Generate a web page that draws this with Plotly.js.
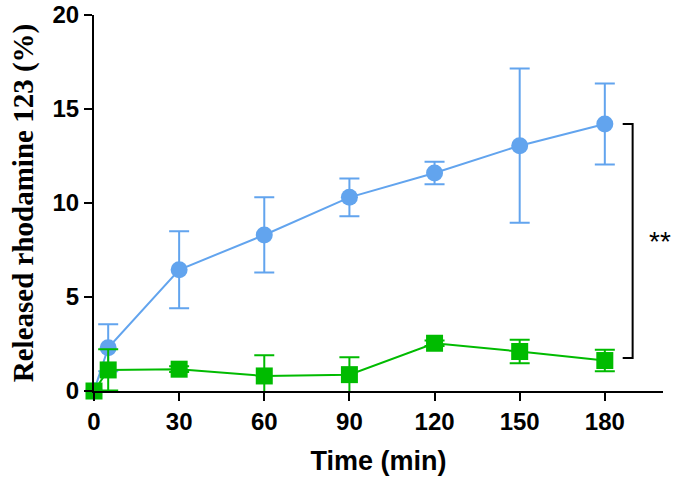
<!DOCTYPE html>
<html>
<head>
<meta charset="utf-8">
<script src="https://cdn.plot.ly/plotly-3.0.1.min.js"></script>
<style>html,body{margin:0;padding:0;background:#fff;}#chart{width:688px;height:485px;}</style>
</head>
<body>
<div id="chart"></div>
<script>
var timeMin = [0, 5, 30, 60, 90, 120, 150, 180];
var blueMean = [0, 2.3, 6.45, 8.3, 10.3, 11.6, 13.05, 14.2];
var blueErr  = [0, 1.25, 2.05, 2.0, 1.0, 0.6, 4.1, 2.15];
var greenMean = [0, 1.12, 1.16, 0.8, 0.87, 2.54, 2.1, 1.62];
var greenErr  = [0, 1.1, 0.15, 1.1, 0.92, 0.15, 0.62, 0.57];
var xTicks = [0, 30, 60, 90, 120, 150, 180];
var yTicks = [0, 5, 10, 15, 20];
var bracketTop = 14.2, bracketBottom = 1.75;

var blue = '#62a4ee', green = '#00bb00';
var traces = [
  {x: timeMin, y: blueMean, type: 'scatter', mode: 'lines+markers', cliponaxis: false,
   line: {color: blue, width: 2}, marker: {color: blue, size: 17, symbol: 'circle'},
   error_y: {type: 'data', array: blueErr, visible: true, color: blue, thickness: 2, width: 10}},
  {x: timeMin, y: greenMean, type: 'scatter', mode: 'lines+markers', cliponaxis: false,
   line: {color: green, width: 2}, marker: {color: green, size: 17, symbol: 'square'},
   error_y: {type: 'data', array: greenErr, visible: true, color: green, thickness: 2, width: 10}}
];
var tickFont = {family: 'Liberation Sans, Arial, sans-serif', size: 24, color: '#000', weight: 700};
var layout = {
  width: 688, height: 485,
  margin: {l: 94, r: 25, t: 15, b: 94},
  paper_bgcolor: '#fff', plot_bgcolor: '#fff',
  showlegend: false,
  xaxis: {range: [0, 200.5], tickvals: xTicks, ticktext: xTicks.map(String),
    showgrid: false, zeroline: false, showline: true, linecolor: '#000', linewidth: 2,
    ticks: 'outside', ticklen: 8, tickwidth: 2, tickcolor: '#000', tickfont: tickFont,
    title: {text: 'Time (min)', font: {family: 'Liberation Sans, Arial, sans-serif', size: 27, color: '#000', weight: 700}, standoff: 17}},
  yaxis: {range: [0, 20], tickvals: yTicks, ticktext: yTicks.map(String),
    showgrid: false, zeroline: false, showline: true, linecolor: '#000', linewidth: 2,
    ticks: 'outside', ticklen: 8, tickwidth: 2, tickcolor: '#000', tickfont: tickFont,
    title: {text: 'Released rhodamine 123 (%)', font: {family: 'Liberation Serif, Times New Roman, serif', size: 29, color: '#000', weight: 700}, standoff: 10}},
  shapes: [
    {type: 'path', xref: 'x', yref: 'y',
     path: 'M 186.3 ' + bracketTop + ' L 189.8 ' + bracketTop + ' L 189.8 ' + bracketBottom + ' L 186.3 ' + bracketBottom,
     line: {color: '#000', width: 2}}
  ],
  annotations: [
    {x: 199.5, y: (bracketTop + bracketBottom) / 2, xref: 'x', yref: 'y', text: '**', showarrow: false,
     font: {family: 'Liberation Sans, Arial, sans-serif', size: 28, color: '#000'}}
  ]
};
Plotly.newPlot('chart', traces, layout, {displayModeBar: false, staticPlot: true});
</script>
</body>
</html>
